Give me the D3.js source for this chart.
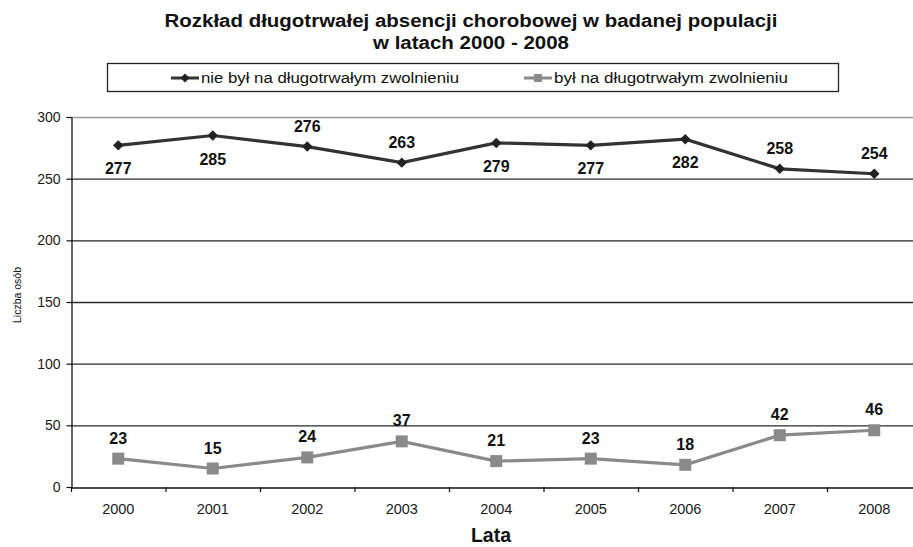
<!DOCTYPE html>
<html>
<head>
<meta charset="utf-8">
<script src="https://cdn.jsdelivr.net/npm/d3@7"></script>
<style>
  html, body { margin: 0; padding: 0; background: #fff; }
  svg { display: block; font-family: "Liberation Sans", Arial, sans-serif; }
</style>
</head>
<body>
<svg id="chart" width="913" height="547"></svg>
<script>
// Years on the horizontal axis
const years = ["2000", "2001", "2002", "2003", "2004", "2005", "2006", "2007", "2008"];
// People without long-term sick leave
const notOnLeave = [277, 285, 276, 263, 279, 277, 282, 258, 254];
// People with long-term sick leave
const onLeave = [23, 15, 24, 37, 21, 23, 18, 42, 46];
// Label placement for the upper series: below or above the point
const notOnLeavePos = ["below", "below", "above", "above", "below", "below", "below", "above", "above"];
const yTicks = [0, 50, 100, 150, 200, 250, 300];
const seriesNames = ["nie był na długotrwałym zwolnieniu", "był na długotrwałym zwolnieniu"];

const svg = d3.select("#chart");
const plot = { left: 71, right: 921.5, top: 117, bottom: 487 };

const x = d3.scaleBand().domain(years).range([plot.left, plot.right]);
const y = d3.scaleLinear().domain([0, 300]).range([plot.bottom, plot.top]);
const cx = d => x(d) + x.bandwidth() / 2;

// Title (two lines, slightly widened lettering)
const titleLines = [
  { text: "Rozkład długotrwałej absencji chorobowej w badanej populacji", y: 27, w: 613 },
  { text: "w latach 2000 - 2008", y: 49, w: 196 }
];
svg.append("g").selectAll("text").data(titleLines).join("text")
  .attr("x", d => 471 - d.w / 2).attr("y", d => d.y)
  .attr("textLength", d => d.w).attr("lengthAdjust", "spacingAndGlyphs")
  .attr("font-size", 18).attr("font-weight", "bold").attr("fill", "#111")
  .text(d => d.text);

// Grid lines
svg.append("g").selectAll("line")
  .data(yTicks.filter(t => t > 0))
  .join("line")
  .attr("x1", plot.left).attr("x2", 913)
  .attr("y1", d => y(d) + 0.5).attr("y2", d => y(d) + 0.5)
  .attr("stroke", d => d === 300 ? "#9a9a9a" : "#2a2a2a")
  .attr("stroke-width", d => d === 300 ? 1.5 : 1.3);

// Y axis
const yAxis = svg.append("g")
  .attr("transform", `translate(${plot.left + 0.5},0)`)
  .call(d3.axisLeft(y).tickValues(yTicks).tickSize(5).tickPadding(6).tickSizeOuter(0));
yAxis.select(".domain").attr("stroke", "#111").attr("stroke-width", 1.3);
yAxis.selectAll(".tick line").attr("stroke", "#111").attr("stroke-width", 1.2);
yAxis.selectAll("text").attr("font-size", 14).attr("fill", "#1a1a1a")
  .attr("font-family", "Liberation Sans, Arial, sans-serif");

// X axis with ticks at band boundaries
const xAxis = svg.append("g")
  .attr("transform", `translate(0,${plot.bottom + 0.5})`)
  .call(d3.axisBottom(x).tickSize(0).tickPadding(16));
xAxis.select(".domain").attr("stroke", "#111").attr("stroke-width", 1.3);
xAxis.selectAll("text").attr("font-size", 14.5).attr("fill", "#1a1a1a")
  .attr("font-family", "Liberation Sans, Arial, sans-serif");
svg.append("g").selectAll("line")
  .data(years)
  .join("line")
  .attr("x1", d => x(d) + 0.5).attr("x2", d => x(d) + 0.5)
  .attr("y1", plot.bottom).attr("y2", plot.bottom + 5)
  .attr("stroke", "#111").attr("stroke-width", 1.2);

// Axis titles
svg.append("text")
  .attr("transform", "translate(21,295) rotate(-90)")
  .attr("text-anchor", "middle")
  .attr("font-size", 10.5).attr("fill", "#111")
  .text("Liczba osób");
svg.append("text")
  .attr("x", 491).attr("y", 542)
  .attr("text-anchor", "middle")
  .attr("font-size", 19.5).attr("font-weight", "bold").attr("fill", "#111")
  .text("Lata");

const line = d3.line().x((d, i) => cx(years[i])).y(d => y(d));

// Series: with long-term leave (grey, squares)
svg.append("path").datum(onLeave)
  .attr("d", line).attr("fill", "none")
  .attr("stroke", "#8a8a8a").attr("stroke-width", 3.2);
svg.append("g").selectAll("rect")
  .data(onLeave)
  .join("rect")
  .attr("x", (d, i) => cx(years[i]) - 6).attr("y", d => y(d) - 6)
  .attr("width", 12).attr("height", 12)
  .attr("fill", "#8a8a8a");
svg.append("g").selectAll("text")
  .data(onLeave)
  .join("text")
  .attr("x", (d, i) => cx(years[i]))
  .attr("y", d => y(d) - 15)
  .attr("text-anchor", "middle")
  .attr("font-size", 16).attr("font-weight", "bold").attr("fill", "#111")
  .text(d => d);

// Series: without long-term leave (dark, diamonds)
svg.append("path").datum(notOnLeave)
  .attr("d", line).attr("fill", "none")
  .attr("stroke", "#333").attr("stroke-width", 3.2);
const diamond = d3.symbol().type(d3.symbolDiamond2).size(70);
svg.append("g").selectAll("path")
  .data(notOnLeave)
  .join("path")
  .attr("d", diamond)
  .attr("transform", (d, i) => `translate(${cx(years[i])},${y(d)})`)
  .attr("fill", "#222");
svg.append("g").selectAll("text")
  .data(notOnLeave)
  .join("text")
  .attr("x", (d, i) => cx(years[i]))
  .attr("y", (d, i) => notOnLeavePos[i] === "below" ? y(d) + 29 : y(d) - 15)
  .attr("text-anchor", "middle")
  .attr("font-size", 16).attr("font-weight", "bold").attr("fill", "#111")
  .text(d => d);

// Legend
svg.append("rect")
  .attr("x", 107.5).attr("y", 63.5).attr("width", 731).attr("height", 28)
  .attr("fill", "#fff").attr("stroke", "#222").attr("stroke-width", 1.3);
const legendItems = [
  { name: seriesNames[0], x: 171, w: 258, color: "#333", marker: "diamond" },
  { name: seriesNames[1], x: 524, w: 234, color: "#8a8a8a", marker: "square" }
];
const lg = svg.append("g").selectAll("g").data(legendItems).join("g")
  .attr("transform", d => `translate(${d.x},78)`);
lg.append("line").attr("x1", 0).attr("x2", 28).attr("y1", 0).attr("y2", 0)
  .attr("stroke", d => d.color).attr("stroke-width", 3);
lg.append("path")
  .attr("d", d => d.marker === "diamond"
    ? d3.symbol().type(d3.symbolDiamond2).size(50)()
    : d3.symbol().type(d3.symbolSquare2).size(80)())
  .attr("transform", "translate(14,0)")
  .attr("fill", d => d.marker === "diamond" ? "#222" : "#8a8a8a");
lg.append("text")
  .attr("x", 30).attr("y", 5)
  .attr("textLength", d => d.w).attr("lengthAdjust", "spacingAndGlyphs")
  .attr("font-size", 14).attr("fill", "#111")
  .text(d => d.name);
</script>
</body>
</html>
